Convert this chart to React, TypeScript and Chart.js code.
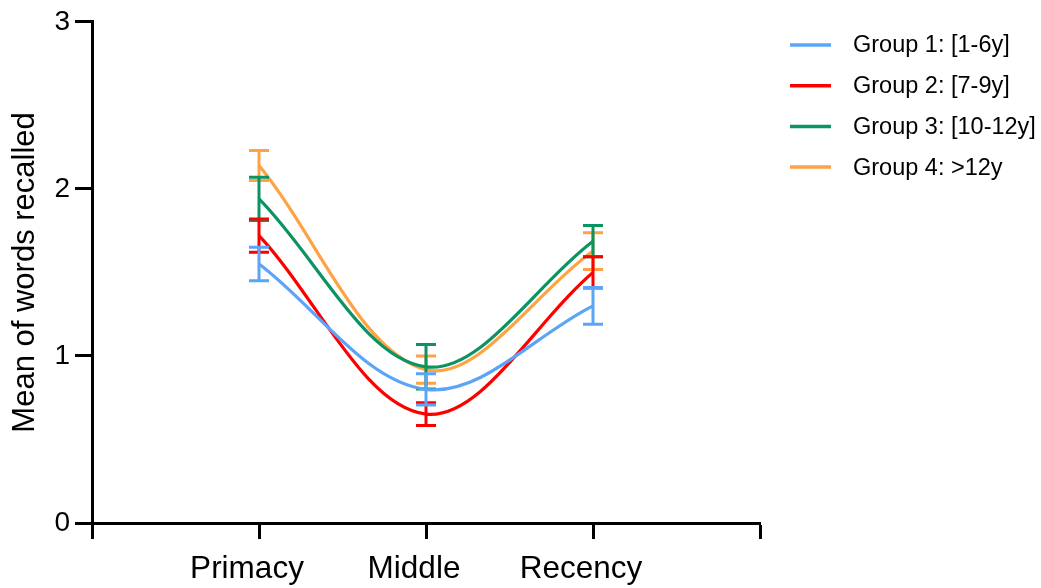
import React, { useEffect, useRef } from "react";
import { Chart, registerables } from "chart.js";

Chart.register(...registerables);

const categories = ["Primacy", "Middle", "Recency"];
const groupLabels = ["Group 1: [1-6y]", "Group 2: [7-9y]", "Group 3: [10-12y]", "Group 4: >12y"];
const groupColors = ["#5CA4F7", "#FF0000", "#0B9462", "#FFA243"];

const g1Mean = [1.55, 0.8, 1.3];
const g1Sem = [0.1, 0.094, 0.11];
const g2Mean = [1.72, 0.652, 1.5];
const g2Sem = [0.1, 0.068, 0.093];
const g3Mean = [1.94, 0.935, 1.687];
const g3Sem = [0.13, 0.133, 0.093];
const g4Mean = [2.14, 0.918, 1.628];
const g4Sem = [0.09, 0.082, 0.11];

const yTicks = [0, 1, 2, 3];

const means = [g1Mean, g2Mean, g3Mean, g4Mean];
const sems = [g1Sem, g2Sem, g3Sem, g4Sem];

const FONT = "'Liberation Sans', Arial, Helvetica, sans-serif";

const errorBarPlugin = {
  id: "errorBars",
  afterDatasetDraw(chart: any, args: any) {
    const i = args.index;
    const ds = chart.data.datasets[i];
    const semArr = ds.sem as number[];
    if (!semArr) return;
    const xs = chart.scales.x;
    const ys = chart.scales.y;
    const ctx = chart.ctx;
    ctx.save();
    ctx.strokeStyle = ds.borderColor;
    ctx.lineWidth = 3;
    ctx.lineCap = "butt";
    ds.data.forEach((p: any, j: number) => {
      const x = xs.getPixelForValue(p.x);
      const yTop = ys.getPixelForValue(p.y + semArr[j]);
      const yBot = ys.getPixelForValue(p.y - semArr[j]);
      ctx.beginPath();
      ctx.moveTo(x, yTop);
      ctx.lineTo(x, yBot);
      ctx.moveTo(x - 10, yTop);
      ctx.lineTo(x + 10, yTop);
      ctx.moveTo(x - 10, yBot);
      ctx.lineTo(x + 10, yBot);
      ctx.stroke();
    });
    ctx.restore();
  },
};

const legendPlugin = {
  id: "customLegend",
  afterDraw(chart: any) {
    const ctx = chart.ctx;
    ctx.save();
    chart.data.datasets.forEach((ds: any, i: number) => {
      const y = 45 + i * 40.7;
      ctx.strokeStyle = ds.borderColor;
      ctx.lineWidth = 3.5;
      ctx.beginPath();
      ctx.moveTo(790, y);
      ctx.lineTo(831, y);
      ctx.stroke();
      ctx.fillStyle = "#000";
      ctx.font = `23.5px ${FONT}`;
      ctx.textBaseline = "middle";
      ctx.textAlign = "left";
      ctx.fillText(ds.label, 853, y + 1);
    });
    ctx.restore();
  },
};

export default function App() {
  const ref = useRef<HTMLCanvasElement>(null);
  useEffect(() => {
    if (!ref.current) return;
    const chart = new Chart(ref.current, {
      type: "line",
      data: {
        datasets: groupLabels.map((label, gi) => ({
          label,
          data: categories.map((_, j) => ({ x: j + 1, y: means[gi][j] })),
          sem: sems[gi],
          borderColor: groupColors[gi],
          backgroundColor: groupColors[gi],
          borderWidth: 3.2,
          pointRadius: 0,
          tension: 0.35,
          fill: false,
        })) as any,
      },
      options: {
        animation: false,
        responsive: false,
        layout: { padding: { left: 0, right: 281, top: 20, bottom: 0 } },
        plugins: {
          legend: { display: false },
          tooltip: { enabled: false },
        },
        scales: {
          x: {
            type: "linear",
            min: 0,
            max: 4,
            afterFit: (s: any) => {
              s.height = 65;
            },
            afterBuildTicks: (s: any) => {
              s.ticks = [0, 1, 2, 3, 4].map((v) => ({ value: v }));
            },
            ticks: {
              stepSize: 1,
              autoSkip: false,
              maxRotation: 0,
              padding: 11,
              labelOffset: -12,
              color: "#000",
              font: { family: FONT, size: 31.5 },
              callback: (v: any) => categories[Number(v) - 1] ?? "",
            },
            grid: {
              display: true,
              drawOnChartArea: false,
              drawTicks: true,
              tickLength: 16,
              tickWidth: 3,
              tickColor: "#000",
              color: "#000",
            },
            border: { display: true, width: 3, color: "#000" },
          },
          y: {
            type: "linear",
            min: 0,
            max: 3,
            afterFit: (s: any) => {
              s.width = 92;
            },
            afterBuildTicks: (s: any) => {
              s.ticks = yTicks.map((v) => ({ value: v }));
            },
            ticks: {
              stepSize: 1,
              padding: 5,
              color: "#000",
              font: { family: FONT, size: 28 },
            },
            grid: {
              display: true,
              drawOnChartArea: false,
              drawTicks: true,
              tickLength: 17,
              tickWidth: 3,
              tickColor: "#000",
              color: "#000",
            },
            border: { display: true, width: 3, color: "#000" },
            title: {
              display: true,
              text: "Mean of words recalled",
              color: "#000",
              font: { family: FONT, size: 31 },
              padding: { top: 7, bottom: 0 },
            },
          },
        },
      },
      plugins: [errorBarPlugin, legendPlugin],
    });
    return () => chart.destroy();
  }, []);
  return (
    <div style={{ position: "absolute", left: 0, top: 0, width: 1041, height: 588 }}>
      <canvas ref={ref} width={1041} height={588} style={{ display: "block" }} />
    </div>
  );
}
